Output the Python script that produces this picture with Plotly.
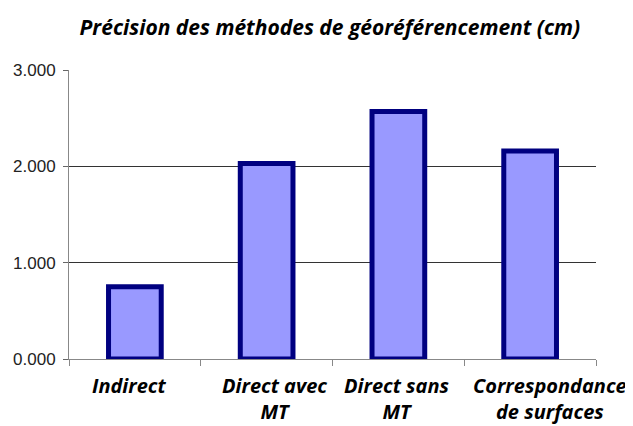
import plotly.graph_objects as go

categories = ["Indirect", "Direct avec<br>MT", "Direct sans<br>MT", "Correspondance<br>de surfaces"]
values = [0.75, 2.03, 2.57, 2.16]
y_ticks = [0, 1, 2, 3]
y_tick_labels = ["0.000", "1.000", "2.000", "3.000"]

# horizontal nudges of the category labels (pixels), as in the original layout
label_shifts = [-5, 8, -1, 20]

fig = go.Figure(go.Bar(
    x=categories, y=values, width=0.40,
    marker=dict(color="#9999FF", line=dict(color="#000080", width=5)),
))

for cat, dx in zip(categories, label_shifts):
    fig.add_annotation(
        x=cat, xref="x", y=0, yref="paper", yanchor="top", xanchor="center",
        text=f"<b><i>{cat}</i></b>", showarrow=False, xshift=dx, yshift=-11,
        align="center",
        font=dict(family="Open Sans", size=20, color="#000"),
    )

fig.update_layout(
    width=625, height=418,
    margin=dict(l=61, r=37, t=62, b=67, autoexpand=False),
    plot_bgcolor="white", paper_bgcolor="white",
    showlegend=False,
    title=dict(text="<b><i>Précision des méthodes de géoréférencement (cm)</i></b>",
               x=0.515, xanchor="center", y=0.952, yanchor="middle",
               font=dict(family="Open Sans", size=21, color="#000")),
)
fig.update_xaxes(
    type="category", categoryorder="array", categoryarray=categories,
    range=[-0.5, len(categories) - 0.5], autorange=False,
    showline=True, linecolor="#888", linewidth=1, automargin=False,
    ticks="outside", tickson="boundaries", ticklen=6, tickcolor="#888",
    showticklabels=False, showgrid=False,
)
fig.update_yaxes(
    range=[0, 3], tickvals=y_ticks, ticktext=y_tick_labels, automargin=False,
    showline=True, linecolor="#888", linewidth=1,
    ticks="outside", ticklen=5, tickcolor="#666", ticklabelstandoff=4,
    showgrid=True, gridcolor="#333", gridwidth=1,
    tickfont=dict(family="Liberation Sans", size=17, color="#222"),
    zeroline=False,
)

fig.write_html("out.html")
